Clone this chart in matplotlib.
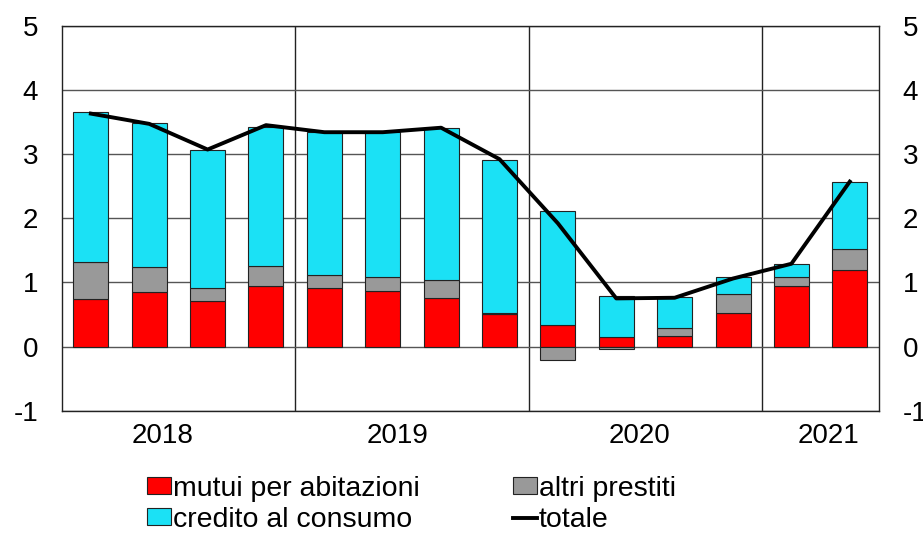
import numpy as np
import matplotlib.pyplot as plt
from matplotlib.patches import Patch
from matplotlib.lines import Line2D

plt.rcParams['font.family'] = ['Liberation Sans', 'DejaVu Sans']
plt.rcParams['axes.unicode_minus'] = False

years = ['2018', '2019', '2020', '2021']
quarters_per_year = [4, 4, 4, 2]

mutui = [0.74, 0.85, 0.71, 0.94, 0.91, 0.86, 0.75, 0.50, 0.34, 0.155, 0.165, 0.53, 0.94, 1.20]
altri = [0.57, 0.39, 0.20, 0.32, 0.21, 0.23, 0.29, 0.03, -0.21, -0.04, 0.125, 0.285, 0.14, 0.32]
credito = [2.34, 2.24, 2.16, 2.16, 2.22, 2.25, 2.37, 2.38, 1.77, 0.635, 0.48, 0.275, 0.21, 1.04]
totale = [3.63, 3.47, 3.07, 3.45, 3.34, 3.34, 3.41, 2.92, 1.92, 0.75, 0.76, 1.06, 1.29, 2.57]

series = [(mutui, '#ff0000', 'mutui per abitazioni'),
          (altri, '#999999', 'altri prestiti'),
          (credito, '#1be1f5', 'credito al consumo')]

fig = plt.figure(figsize=(9.23, 5.34), dpi=100)
ax = fig.add_axes([0.0668, 0.2309, 0.8855, 0.721])

x = np.arange(len(mutui))
pos = np.zeros(len(x))
neg = np.zeros(len(x))
for vals, col, lab in series:
    v = np.array(vals)
    bottom = np.where(v >= 0, pos, neg)
    ax.bar(x, v, 0.6, bottom=bottom, color=col, edgecolor='#222222', linewidth=0.8, zorder=3)
    pos = pos + np.where(v >= 0, v, 0)
    neg = neg + np.where(v < 0, v, 0)

ax.plot(x, totale, color='black', linewidth=2.8, zorder=4)

ax.set_xlim(-0.5, len(x) - 0.5)
ax.set_ylim(-1, 5)
ax.set_yticks(range(-1, 6))
ax.yaxis.grid(True, color='#555555', linewidth=1, zorder=0)
ax.tick_params(axis='y', length=0, labelsize=20, pad=17, labelright=True)

# year boundaries as major ticks (gridlines), year names on minor ticks
bounds = np.cumsum(quarters_per_year)[:-1] - 0.5
ax.set_xticks(bounds)
ax.set_xticklabels([])
ax.xaxis.grid(True, color='#222222', linewidth=1, zorder=0)
ax.set_xticks([1.23, 5.26, 9.39, 12.63], minor=True)
ax.set_xticklabels(years, minor=True)
ax.tick_params(axis='x', which='both', length=0, labelsize=20, pad=9)

for s in ax.spines.values():
    s.set_color('#222222')
    s.set_linewidth(1)

handles = [Patch(facecolor='#ff0000', edgecolor='#222222', linewidth=0.8),
           Patch(facecolor='#1be1f5', edgecolor='#222222', linewidth=0.8),
           Patch(facecolor='#999999', edgecolor='#222222', linewidth=0.8),
           Line2D([], [], color='black', linewidth=2.8)]
labels = ['mutui per abitazioni', 'credito al consumo', 'altri prestiti', 'totale']
fig.legend(handles, labels, ncol=2, loc='upper left', bbox_to_anchor=(0.159, 0.109),
           frameon=False, fontsize=20.5, handlelength=0.85, handleheight=0.55,
           handletextpad=0.08, columnspacing=3.25, labelspacing=0.18, borderaxespad=0,
           borderpad=0)

fig.savefig('out.png', dpi=100)
